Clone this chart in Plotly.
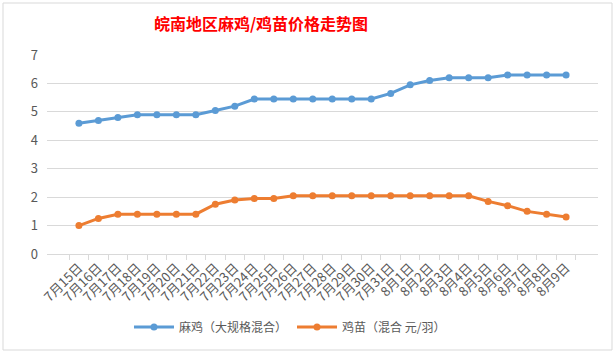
import plotly.graph_objects as go

dates = [f"7月{d}日" for d in range(15, 32)] + [f"8月{d}日" for d in range(1, 10)]
broiler = [4.6, 4.7, 4.8, 4.9, 4.9, 4.9, 4.9, 5.05, 5.2, 5.45, 5.45, 5.45, 5.45, 5.45,
           5.45, 5.45, 5.65, 5.95, 6.1, 6.2, 6.2, 6.2, 6.3, 6.3, 6.3, 6.3]
chick = [1.0, 1.25, 1.4, 1.4, 1.4, 1.4, 1.4, 1.75, 1.9, 1.95, 1.95, 2.05, 2.05, 2.05,
         2.05, 2.05, 2.05, 2.05, 2.05, 2.05, 2.05, 1.85, 1.7, 1.5, 1.4, 1.3]
names = ["麻鸡（大规格混合）", "鸡苗（混合 元/羽）"]
colors = ["#5B9BD5", "#ED7D31"]

font = "Noto Sans CJK SC, Microsoft YaHei, sans-serif"
fig = go.Figure()
for ys, nm, c in zip([broiler, chick], names, colors):
    fig.add_trace(go.Scatter(x=dates, y=ys, name=nm, mode="lines+markers",
                             line=dict(color=c, width=3),
                             marker=dict(color=c, size=7)))

fig.update_layout(
    width=615, height=354,
    margin=dict(l=47, r=17, t=55, b=100, autoexpand=False),
    paper_bgcolor="white", plot_bgcolor="white",
    title=dict(text="<b>皖南地区麻鸡/鸡苗价格走势图</b>", x=261 / 615, xanchor="center",
               y=1 - 24 / 354, yanchor="middle",
               font=dict(family=font, size=16, color="#FF0000")),
    font=dict(family=font, color="#595959", size=12),
    showlegend=True,
    legend=dict(orientation="h", x=0.441, xanchor="center", y=-0.367, yanchor="middle",
                font=dict(size=12, color="#595959"), itemwidth=40, bgcolor="rgba(0,0,0,0)"),
    xaxis=dict(type="category", showgrid=False, showline=True, linecolor="#D9D9D9",
               ticks="outside", tickson="boundaries", ticklen=5, tickcolor="#D9D9D9",
               tickangle=-45, tickfont=dict(size=13, color="#595959"),
               automargin=False, fixedrange=True),
    yaxis=dict(range=[0, 7], dtick=1, showgrid=True, gridcolor="#D9D9D9", gridwidth=1,
               zeroline=False, showline=False, ticks="", ticklabelstandoff=8,
               tickfont=dict(size=13, color="#595959"), automargin=False),
)
fig.add_shape(type="rect", xref="paper", yref="paper",
              x0=-44 / 551, x1=1 + 14 / 551, y0=-(350 - 254) / 199, y1=1 + (55 - 3) / 199,
              line=dict(color="#D9D9D9", width=1), fillcolor="rgba(0,0,0,0)", layer="below")
fig.write_html("out.html")
